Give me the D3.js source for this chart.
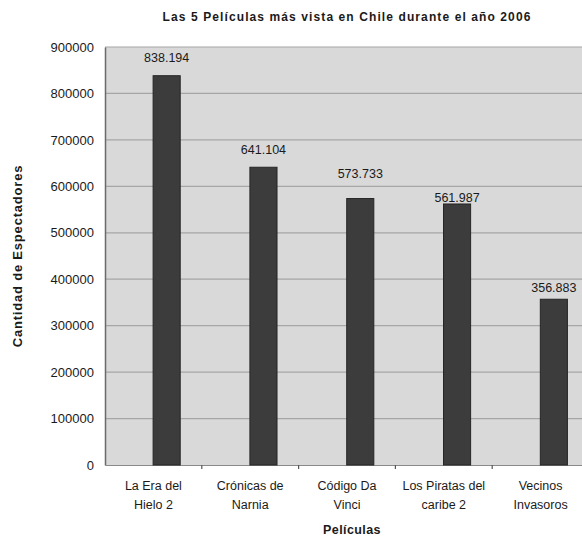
<!DOCTYPE html>
<html>
<head>
<meta charset="utf-8">
<script src="https://cdn.jsdelivr.net/npm/d3@7"></script>
<style>
  html, body { margin: 0; padding: 0; background: #fff; }
  svg { display: block; }
  text { font-family: "Liberation Sans", Arial, sans-serif; fill: #1a1a1a; }
</style>
</head>
<body>
<svg id="chart" width="582" height="538"></svg>
<script>
// ---- Data ----
const categories = [["La Era del", "Hielo 2"], ["Crónicas de", "Narnia"], ["Código Da", "Vinci"], ["Los Piratas del", "caribe 2"], ["Vecinos", "Invasoros"]];
const values = [838194, 641104, 573733, 561987, 356883];
const valueLabels = ["838.194", "641.104", "573.733", "561.987", "356.883"];
const yTicks = [0, 100000, 200000, 300000, 400000, 500000, 600000, 700000, 800000, 900000];
const titleText = "Las 5 Películas más vista en Chile durante el año 2006";
const yTitle = "Cantidad de Espectadores";
const xTitle = "Películas";

// ---- Layout ----
const svg = d3.select("#chart");
const plot = { left: 105, right: 589, top: 47, bottom: 465 };
const ids = categories.map((c, i) => i);

const x = d3.scaleBand().domain(ids).range([plot.left, plot.right]).paddingInner(0).paddingOuter(0);
const y = d3.scaleLinear().domain([0, 900000]).range([plot.bottom, plot.top]);

// background
svg.append("rect")
  .attr("x", plot.left).attr("y", plot.top)
  .attr("width", plot.right - plot.left).attr("height", plot.bottom - plot.top)
  .attr("fill", "#d9d9d9");

// gridlines
svg.append("g").selectAll("line").data(yTicks.filter(t => t > 0)).join("line")
  .attr("x1", plot.left).attr("x2", plot.right)
  .attr("y1", d => y(d)).attr("y2", d => y(d))
  .attr("stroke", "#a6a6a6").attr("stroke-width", 1.2);

// y axis
const yAxis = d3.axisLeft(y).tickValues(yTicks).tickSize(0).tickPadding(11).tickFormat(d3.format("d"));
const gy = svg.append("g").attr("transform", `translate(${plot.left},0)`).call(yAxis);
gy.select(".domain").attr("stroke", "#6a6a6a").attr("stroke-width", 1.5);
gy.selectAll("text").style("font-size", "13px").attr("fill", "#222");

// x axis
const xAxis = d3.axisBottom(x).tickSize(0).tickFormat("");
const gx = svg.append("g").attr("transform", `translate(0,${plot.bottom})`).call(xAxis);
gx.select(".domain").attr("stroke", "#8a8a8a").attr("stroke-width", 1.2);
gx.selectAll(".tick").remove();
// boundary tick marks
svg.append("g").selectAll("line").data(ids.slice(1)).join("line")
  .attr("x1", d => x(d)).attr("x2", d => x(d))
  .attr("y1", plot.bottom).attr("y2", plot.bottom + 4)
  .attr("stroke", "#555").attr("stroke-width", 1.2);

// category labels
const catG = svg.append("g").selectAll("text").data(categories).join("text")
  .attr("x", (d, i) => x(i) + x.bandwidth() / 2)
  .attr("y", plot.bottom + 25)
  .attr("text-anchor", "middle")
  .style("font-size", "12.5px");
catG.each(function(d) {
  const t = d3.select(this);
  d.forEach((line, k) => {
    t.append("tspan").attr("x", t.attr("x")).attr("dy", k === 0 ? 0 : 19).text(line);
  });
});

// bars
const barW = x.bandwidth() * 0.28;
svg.append("g").selectAll("rect").data(values).join("rect")
  .attr("x", (d, i) => x(i) + x.bandwidth() * 0.497)
  .attr("y", d => y(d))
  .attr("width", barW)
  .attr("height", d => plot.bottom - y(d))
  .attr("fill", "#3c3c3c")
  .attr("stroke", "#262626").attr("stroke-width", 1);

// value labels (label lift above bar top, as placed in the original)
const labelLift = [14, 13, 21, 2, 7];
svg.append("g").selectAll("text").data(values).join("text")
  .attr("x", (d, i) => x(i) + x.bandwidth() * 0.497 + barW / 2)
  .attr("y", (d, i) => y(d) - labelLift[i])
  .attr("text-anchor", "middle")
  .style("font-size", "12.5px")
  .text((d, i) => valueLabels[i]);

// title
svg.append("text")
  .attr("x", 347).attr("y", 21)
  .attr("text-anchor", "middle")
  .style("font-size", "12px").style("font-weight", "bold")
  .style("letter-spacing", "1.1px")
  .text(titleText);

// y title
svg.append("text")
  .attr("transform", `translate(22,${(plot.top + plot.bottom) / 2}) rotate(-90)`)
  .attr("text-anchor", "middle")
  .style("font-size", "13px").style("font-weight", "bold")
  .style("letter-spacing", "0.8px")
  .text(yTitle);

// x title
svg.append("text")
  .attr("x", 352).attr("y", 534)
  .attr("text-anchor", "middle")
  .style("font-size", "12.5px").style("font-weight", "bold")
  .style("letter-spacing", "0.4px")
  .text(xTitle);
</script>
</body>
</html>
